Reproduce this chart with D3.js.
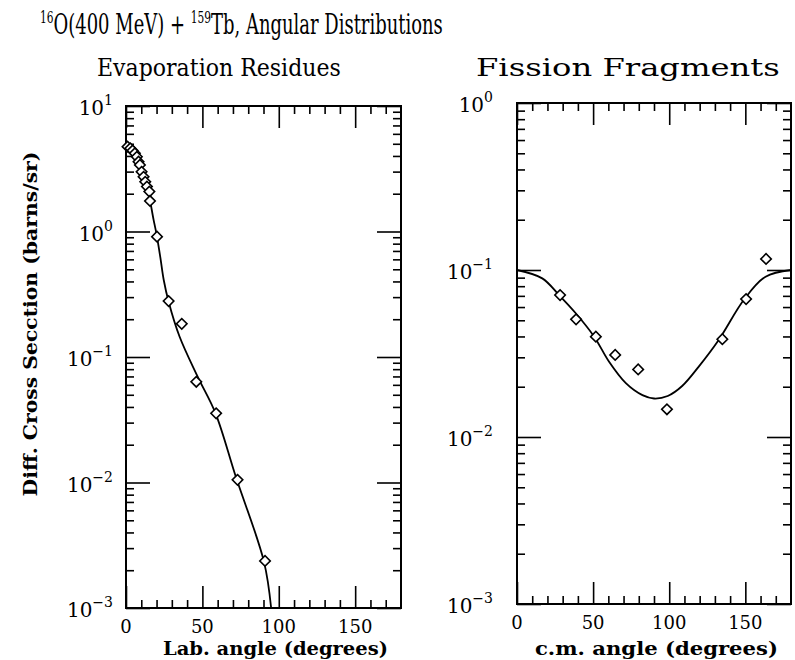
<!DOCTYPE html>
<html>
<head>
<meta charset="utf-8">
<script src="https://cdn.jsdelivr.net/npm/d3@7"></script>
<style>
  body { margin: 0; background: #fff; }
  svg { display: block; }
  text { font-family: "DejaVu Serif", "Liberation Serif", serif; fill: #000; }
</style>
</head>
<body>
<svg id="chart" width="795" height="660"></svg>
<script>
// Evaporation residues: lab angle (deg) and differential cross section (b/sr)
const erAngle = [1.0, 2.8, 4.3, 5.8, 7.1, 8.2, 9.1, 10.2, 11.5, 12.6, 13.7, 15.3, 15.7, 20.3, 27.9, 36.5, 46, 59, 73, 91];
const erSigma = [4.74, 4.60, 4.41, 4.20, 3.94, 3.60, 3.39, 2.99, 2.73, 2.49, 2.28, 2.08, 1.75, 0.91, 0.279, 0.184, 0.0635, 0.0356, 0.0105, 0.00237];
// Evaporation residues: calculated curve
const erFitAngle = [0, 3, 6, 9, 12, 15, 18, 20, 22.5, 24.7, 27.9, 35.1, 46.9, 58.6, 71.9, 90.3, 95];
const erFitSigma = [4.9, 4.6, 4.2, 3.45, 2.65, 1.95, 1.25, 0.95, 0.62, 0.411, 0.276, 0.145, 0.0697, 0.0356, 0.0111, 0.00234, 0.001];

// Fission fragments: c.m. angle (deg) and differential cross section (b/sr)
const ffAngle = [28.3, 38.8, 51.8, 64.5, 79.6, 98.5, 134.9, 150.5, 163.6];
const ffSigma = [0.0708, 0.0507, 0.0399, 0.031, 0.0254, 0.01466, 0.0385, 0.067, 0.1164];
// Fission fragments: calculated curve
const ffFitAngle = [0, 16.6, 27.6, 38.6, 50.7, 60.5, 71.5, 82.4, 90, 99, 108.5, 119.4, 132.5, 149.4, 163.3, 180];
const ffFitSigma = [0.1, 0.0891, 0.0708, 0.0551, 0.0399, 0.0282, 0.021, 0.0178, 0.0170, 0.0176, 0.0202, 0.0264, 0.0381, 0.067, 0.0912, 0.1];

// Axis ticks
const xMajorTicks = [0, 50, 100, 150];
const xMinorTicks = [10, 20, 30, 40, 60, 70, 80, 90, 110, 120, 130, 140, 160, 170];
const xTickLabels = ["0", "50", "100", "150"];
const erDecades = [-3, -2, -1, 0, 1];
const ffDecades = [-3, -2, -1, 0];

const svg = d3.select("#chart");

// Scale a text element horizontally so that it spans a given width
function fitWidth(sel, x, y, width) {
  const w = sel.node().getBBox().width;
  sel.attr("transform", `translate(${x},${y}) scale(${width / w},1)`);
}

function drawPanel(cfg) {
  const x = d3.scaleLinear().domain([0, 180]).range([cfg.x0, cfg.x1]);
  const y = d3.scaleLog().domain(cfg.yDomain).range([cfg.y1, cfg.y0]);
  const g = svg.append("g");

  const decadeVals = cfg.decades.map(d => Math.pow(10, d));
  const minorY = [];
  cfg.decades.slice(0, -1).forEach(d => {
    for (let k = 2; k <= 9; k++) minorY.push(k * Math.pow(10, d));
  });

  const MAJ = 22, MIN = 8;
  const strip = s => s.call(a => a.select(".domain").remove())
                      .call(a => a.selectAll("line").attr("stroke", "#000").attr("stroke-width", 1.6));

  // bottom and top ticks (pointing inward)
  [[d3.axisBottom, cfg.y1], [d3.axisTop, cfg.y0]].forEach(([ax, pos]) => {
    g.append("g").attr("transform", `translate(0,${pos})`)
      .call(ax(x).tickValues(xMajorTicks).tickSize(-MAJ).tickFormat("")).call(strip);
    g.append("g").attr("transform", `translate(0,${pos})`)
      .call(ax(x).tickValues(xMinorTicks).tickSize(-MIN).tickFormat("")).call(strip);
  });
  // left and right ticks (pointing inward)
  [[d3.axisLeft, cfg.x0], [d3.axisRight, cfg.x1]].forEach(([ax, pos]) => {
    g.append("g").attr("transform", `translate(${pos},0)`)
      .call(ax(y).tickValues(decadeVals).tickSize(-MAJ - 2).tickFormat("")).call(strip);
    g.append("g").attr("transform", `translate(${pos},0)`)
      .call(ax(y).tickValues(minorY).tickSize(-MIN).tickFormat("")).call(strip);
  });

  // frame
  g.append("rect")
    .attr("x", cfg.x0).attr("y", cfg.y0)
    .attr("width", cfg.x1 - cfg.x0).attr("height", cfg.y1 - cfg.y0)
    .attr("fill", "none").attr("stroke", "#000").attr("stroke-width", 2);

  // x tick labels
  g.selectAll("text.xl").data(xMajorTicks).enter().append("text")
    .attr("class", "xl")
    .attr("x", d => x(d)).attr("y", cfg.y1 + 25)
    .attr("text-anchor", "middle").attr("font-size", 18)
    .text((d, i) => xTickLabels[i]);

  // y tick labels as powers of ten
  cfg.decades.forEach(d => {
    const t = g.append("text")
      .attr("x", cfg.labelRight).attr("y", y(Math.pow(10, d)) + 9)
      .attr("text-anchor", "end").attr("font-size", 20);
    t.append("tspan").text("10");
    t.append("tspan").attr("dy", -10).attr("font-size", 14)
      .text(d < 0 ? "\u2212" + Math.abs(d) : String(d));
  });

  // calculated curve
  const line = d3.line().x(d => x(d[0])).y(d => y(d[1])).curve(d3.curveCatmullRom.alpha(0.5));
  g.append("path")
    .datum(cfg.fitA.map((a, i) => [a, cfg.fitS[i]]))
    .attr("d", line).attr("fill", "none").attr("stroke", "#000").attr("stroke-width", 1.8);

  // measured points (open diamonds)
  g.selectAll("path.pt").data(cfg.ptA.map((a, i) => [a, cfg.ptS[i]])).enter().append("path")
    .attr("class", "pt")
    .attr("d", d3.symbol(d3.symbolSquare, 55))
    .attr("transform", d => `translate(${x(d[0])},${y(d[1])}) rotate(45)`)
    .attr("fill", "#fff").attr("stroke", "#000").attr("stroke-width", 1.6);

  // x axis title
  const xt = g.append("text").attr("font-size", 18).attr("font-weight", "bold").text(cfg.xTitle);
  fitWidth(xt, cfg.xTitleX, 655, cfg.xTitleW);
}

drawPanel({
  x0: 126, x1: 401, y0: 106, y1: 608, yDomain: [1e-3, 10], decades: erDecades,
  labelRight: 113, ptA: erAngle, ptS: erSigma, fitA: erFitAngle, fitS: erFitSigma,
  xTitle: "Lab. angle (degrees)", xTitleX: 163, xTitleW: 225
});
drawPanel({
  x0: 517, x1: 791, y0: 103, y1: 604, yDomain: [1e-3, 1], decades: ffDecades,
  labelRight: 493, ptA: ffAngle, ptS: ffSigma, fitA: ffFitAngle, fitS: ffFitSigma,
  xTitle: "c.m. angle (degrees)", xTitleX: 535, xTitleW: 243
});

// main title with superscript mass numbers
const title = svg.append("text").attr("font-size", 27);
title.append("tspan").attr("font-size", 16).attr("dy", -11).text("16");
title.append("tspan").attr("dy", 11).text("O(400 MeV) + ");
title.append("tspan").attr("font-size", 16).attr("dy", -11).text("159");
title.append("tspan").attr("dy", 11).text("Tb, Angular Distributions");
fitWidth(title, 40, 34, 403);

// panel titles
const st1 = svg.append("text").attr("font-size", 25).text("Evaporation Residues");
fitWidth(st1, 97, 76, 244);
const st2 = svg.append("text").attr("font-size", 25).text("Fission Fragments");
fitWidth(st2, 476, 76, 304);

// shared y axis title
const yt = svg.append("text").attr("font-size", 18).attr("font-weight", "bold")
  .attr("text-anchor", "middle").text("Diff. Cross Secction (barns/sr)");
{
  const w = yt.node().getBBox().width;
  yt.attr("transform", `translate(37,324) rotate(-90) scale(${345 / w},1)`);
}
</script>
</body>
</html>
